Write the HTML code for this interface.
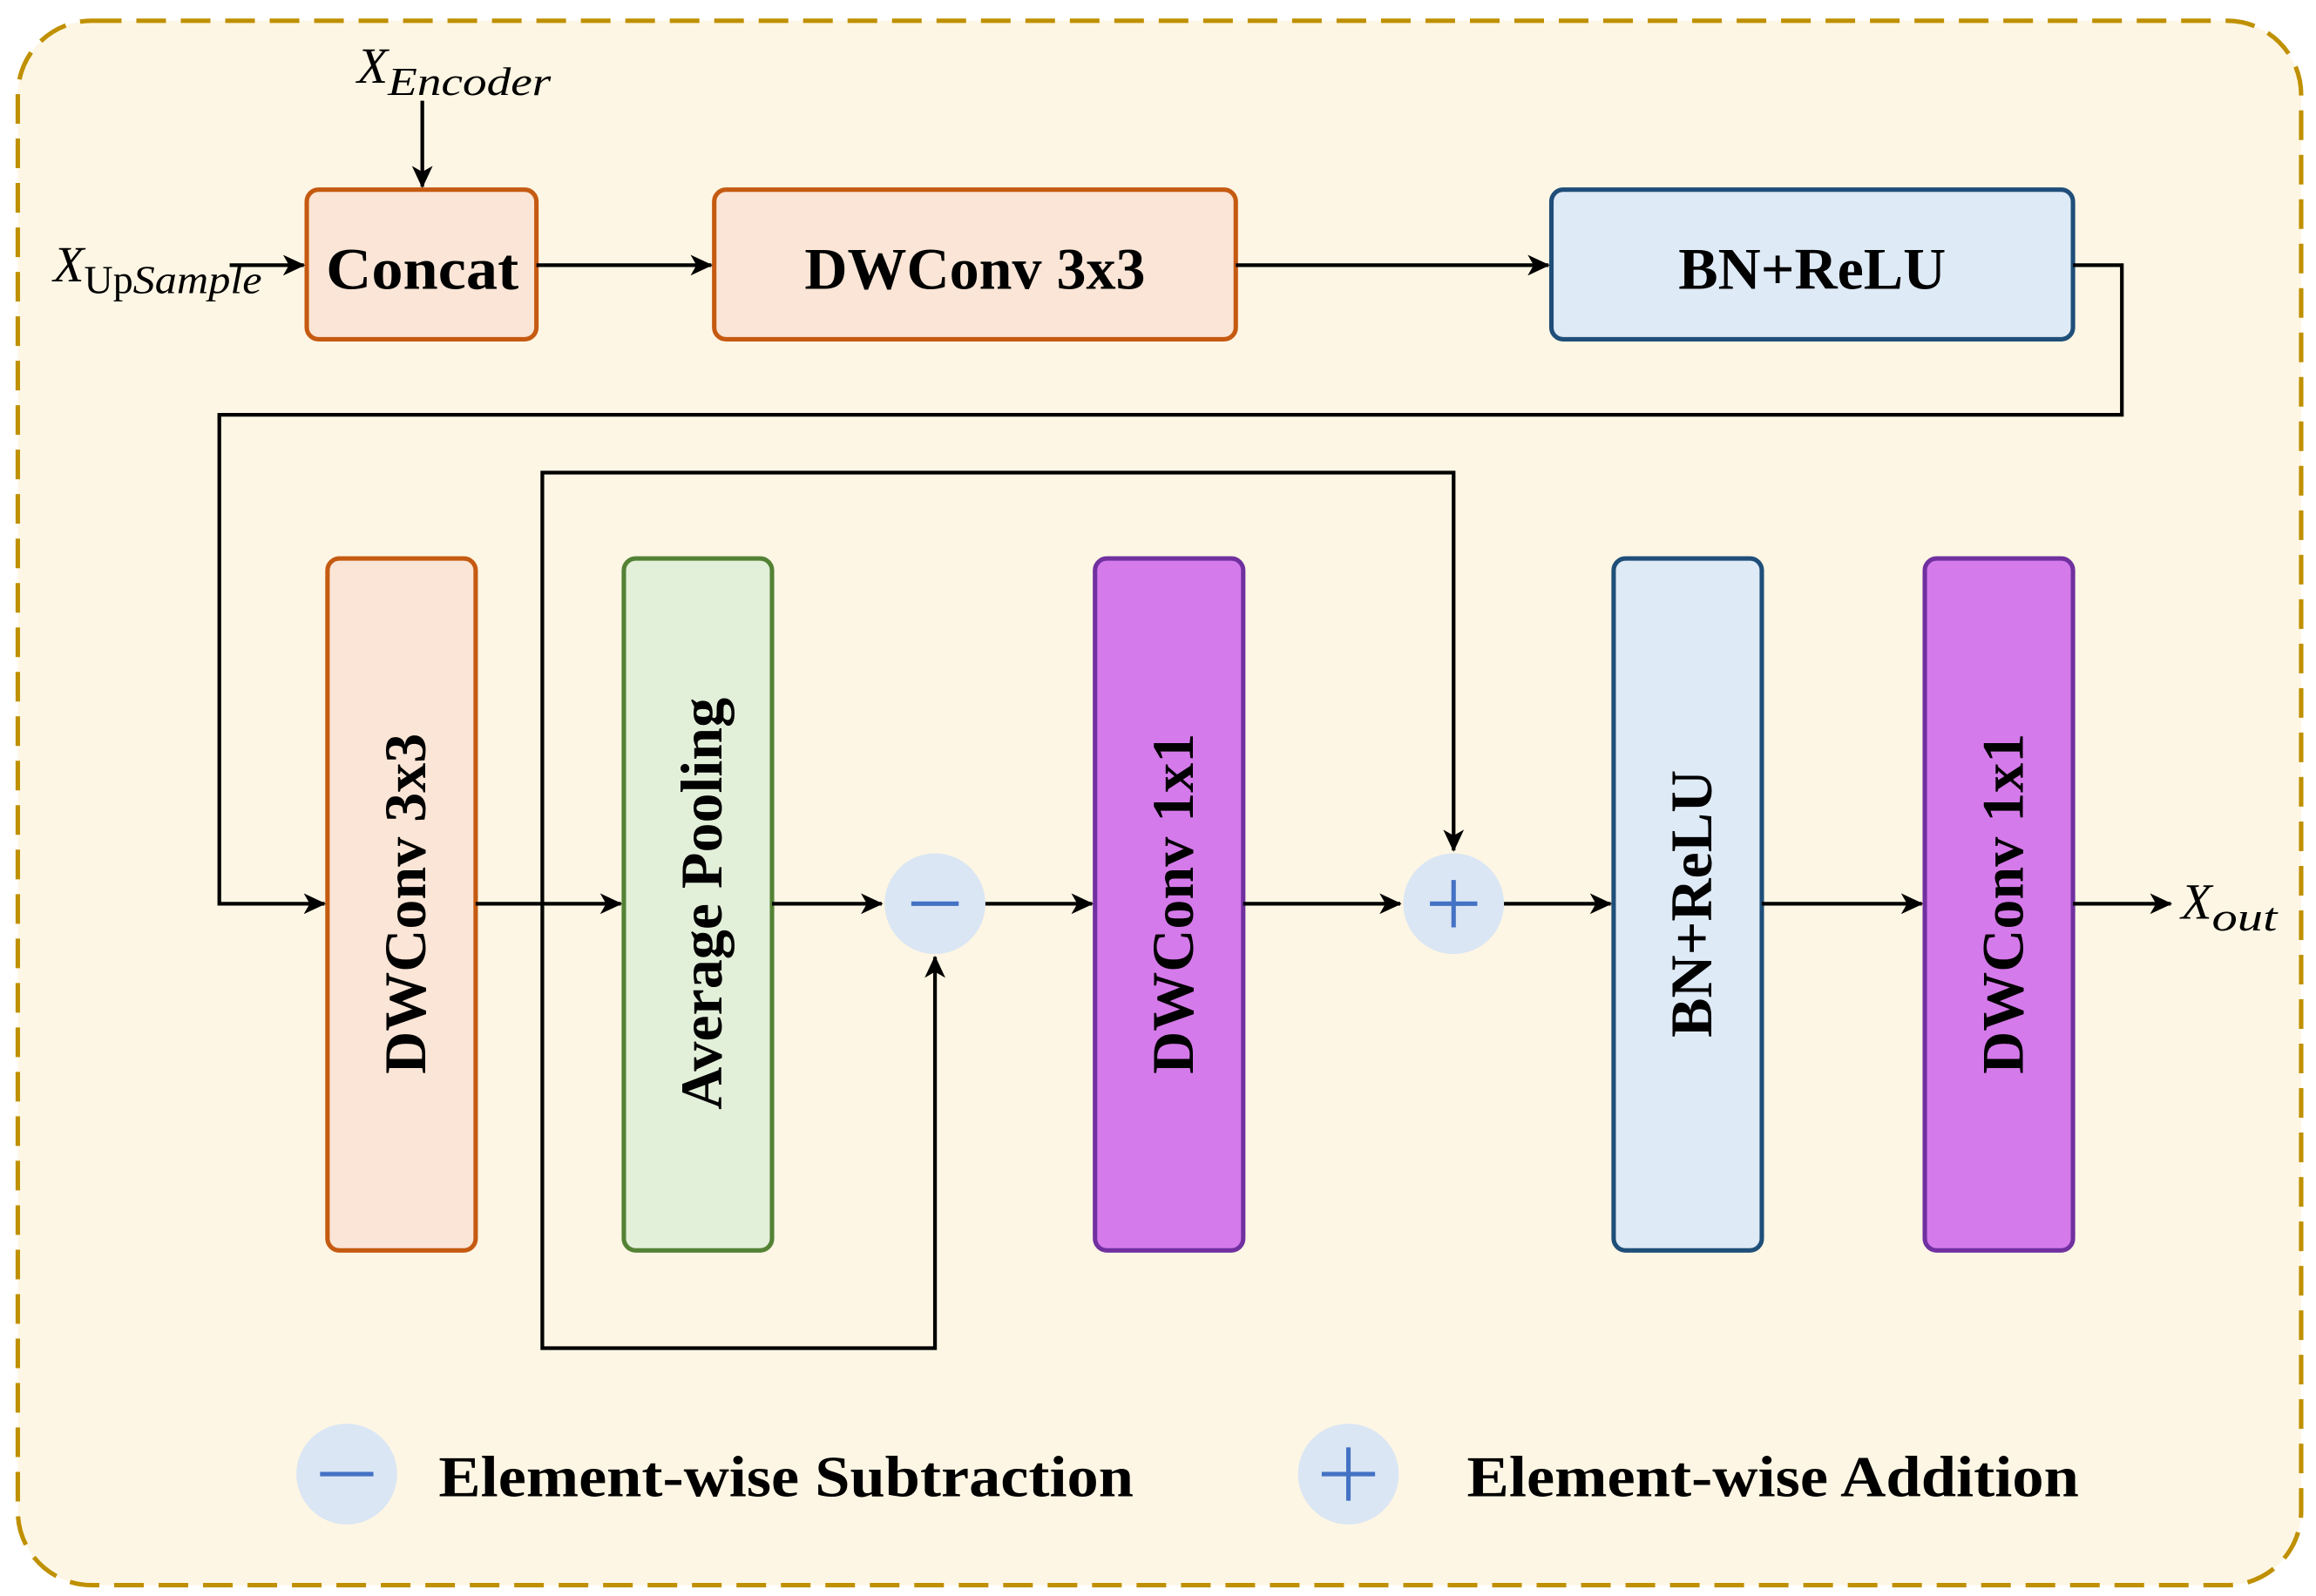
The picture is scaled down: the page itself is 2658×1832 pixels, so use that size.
<!DOCTYPE html>
<html><head><meta charset="utf-8"><style>
html,body{margin:0;padding:0;background:#fff;}
svg{display:block;}
.b{font-family:"Liberation Serif",serif;font-weight:bold;font-size:40px;fill:#000;}
.m{font-family:"Liberation Serif",serif;font-style:italic;fill:#000;}
</style></head><body>
<svg width="2658" height="1832" viewBox="0 0 1563 1077.3" xmlns="http://www.w3.org/2000/svg">
<defs>
<marker id="h" markerWidth="16" markerHeight="14" refX="14" refY="7" orient="auto" markerUnits="userSpaceOnUse">
<path d="M0,0 L15,7 L0,14 L4,7 Z" fill="#000"/>
</marker>
</defs>
<rect x="12" y="14" width="1541" height="1056" rx="50" fill="#fef6e4" stroke="#bf9000" stroke-width="3" stroke-dasharray="20,10"/>

<g stroke-width="3">
<rect x="207" y="128" width="155" height="101" rx="8" fill="#fae5d6" stroke="#c55a11"/>
<rect x="482" y="128" width="352" height="101" rx="8" fill="#fae5d6" stroke="#c55a11"/>
<rect x="1047" y="128" width="352" height="101" rx="8" fill="#deeaf6" stroke="#1f4e79"/>
<rect x="221" y="377" width="100" height="467" rx="8" fill="#fae5d6" stroke="#c55a11"/>
<rect x="421" y="377" width="100" height="467" rx="8" fill="#e2efd9" stroke="#548235"/>
<rect x="739" y="377" width="100" height="467" rx="8" fill="#d57aea" stroke="#7030a0"/>
<rect x="1089" y="377" width="100" height="467" rx="8" fill="#deeaf6" stroke="#1f4e79"/>
<rect x="1299" y="377" width="100" height="467" rx="8" fill="#d57aea" stroke="#7030a0"/>
</g>
<circle cx="631" cy="610" r="34" fill="#dae6f4"/>
<circle cx="981" cy="610" r="34" fill="#dae6f4"/>
<circle cx="234" cy="995" r="34" fill="#dae6f4"/>
<circle cx="910" cy="995" r="34" fill="#dae6f4"/>
<g stroke="#4472c4" stroke-width="3">
<line x1="615" y1="610" x2="647" y2="610"/>
<line x1="965" y1="610" x2="997" y2="610"/><line x1="981" y1="594" x2="981" y2="626"/>
<line x1="216" y1="995" x2="252" y2="995"/>
<line x1="892" y1="995" x2="928" y2="995"/><line x1="910" y1="977" x2="910" y2="1013"/>
</g>

<g stroke="#000" stroke-width="2.5" fill="none">
<line x1="285" y1="68" x2="285" y2="126" marker-end="url(#h)"/>
<line x1="155" y1="179" x2="205" y2="179" marker-end="url(#h)"/>
<line x1="362" y1="179" x2="480" y2="179" marker-end="url(#h)"/>
<line x1="834" y1="179" x2="1045" y2="179" marker-end="url(#h)"/>
<polyline points="1399,179 1432,179 1432,280 148,280 148,610 219,610" marker-end="url(#h)"/>
<line x1="321" y1="610" x2="419" y2="610" marker-end="url(#h)"/>
<polyline points="366,610 366,319 981,319 981,574" marker-end="url(#h)"/>
<polyline points="366,610 366,910 631,910 631,646" marker-end="url(#h)"/>
<line x1="521" y1="610" x2="595" y2="610" marker-end="url(#h)"/>
<line x1="665" y1="610" x2="737" y2="610" marker-end="url(#h)"/>
<line x1="839" y1="610" x2="945" y2="610" marker-end="url(#h)"/>
<line x1="1015" y1="610" x2="1087" y2="610" marker-end="url(#h)"/>
<line x1="1189" y1="610" x2="1297" y2="610" marker-end="url(#h)"/>
<line x1="1399" y1="610" x2="1465" y2="610" marker-end="url(#h)"/>
</g>

<text class="b" x="285" y="195" text-anchor="middle" textLength="130" lengthAdjust="spacingAndGlyphs">Concat</text>
<text class="b" x="658" y="195" text-anchor="middle">DWConv 3x3</text>
<text class="b" x="1223" y="195" text-anchor="middle">BN+ReLU</text>
<text class="b" transform="translate(287,610) rotate(-90)" text-anchor="middle">DWConv 3x3</text>
<text class="b" transform="translate(487,610) rotate(-90)" text-anchor="middle">Average Pooling</text>
<text class="b" transform="translate(805,610) rotate(-90)" text-anchor="middle">DWConv 1x1</text>
<text class="b" transform="translate(1155,610) rotate(-90)" text-anchor="middle">BN+ReLU</text>
<text class="b" transform="translate(1365,610) rotate(-90)" text-anchor="middle">DWConv 1x1</text>
<text class="b" x="296" y="1010" style="font-size:39px" textLength="469" lengthAdjust="spacingAndGlyphs">Element-wise Subtraction</text>
<text class="b" x="990" y="1010" style="font-size:39px" textLength="413" lengthAdjust="spacingAndGlyphs">Element-wise Addition</text>

<text class="m" x="241" y="56" font-size="34">X<tspan font-size="27" dy="8" textLength="110" lengthAdjust="spacingAndGlyphs">Encoder</tspan></text>
<text class="m" x="36" y="190" font-size="34">X<tspan font-size="27" dy="8" font-style="normal">Up</tspan><tspan font-size="27" textLength="87" lengthAdjust="spacingAndGlyphs">Sample</tspan></text>
<text class="m" x="1472" y="620" font-size="34">X<tspan font-size="27" dy="8" textLength="44" lengthAdjust="spacingAndGlyphs">out</tspan></text>
</svg>
</body></html>
